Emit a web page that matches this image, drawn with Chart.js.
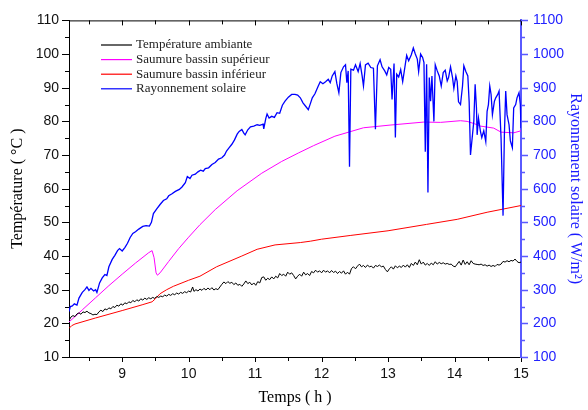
<!DOCTYPE html>
<html>
<head>
<meta charset="utf-8">
<script src="https://cdn.jsdelivr.net/npm/chart.js@4"></script>
<style>
  html, body { margin: 0; padding: 0; background: #fff; }
  #wrap { width: 588px; height: 410px; }
</style>
</head>
<body>
<div id="wrap"><canvas id="chart" width="588" height="410"></canvas></div>
<script>
// ** Data **
const seriesLabels = ["Température ambiante", "Saumure bassin supérieur", "Saumure bassin inférieur", "Rayonnement solaire"];
const seriesColors = ["#000000", "#ff00ff", "#ff0000", "#0000ff"];

const xTicks = [9, 10, 11, 12, 13, 14, 15];
const tempTicks = [10, 20, 30, 40, 50, 60, 70, 80, 90, 100, 110];
const radTicks = [100, 200, 300, 400, 500, 600, 700, 800, 900, 1000, 1100];

const hoursAmb = [8.20, 8.23, 8.26, 8.29, 8.32, 8.35, 8.38, 8.41, 8.44, 8.47, 8.50, 8.53, 8.56, 8.59, 8.62, 8.65, 8.68, 8.71, 8.74, 8.77,
  8.80, 8.83, 8.86, 8.89, 8.92, 8.95, 8.98, 9.01, 9.04, 9.07, 9.10, 9.13, 9.16, 9.19, 9.22, 9.25, 9.28, 9.31, 9.34, 9.37,
  9.40, 9.43, 9.46, 9.49, 9.52, 9.55, 9.58, 9.61, 9.64, 9.67, 9.70, 9.73, 9.76, 9.79, 9.82, 9.85, 9.88, 9.91, 9.94, 9.97,
  10.00, 10.03, 10.06, 10.08, 10.11, 10.14, 10.17, 10.20, 10.23, 10.26, 10.29, 10.32, 10.35, 10.38, 10.41, 10.44, 10.47, 10.50, 10.53, 10.56,
  10.59, 10.62, 10.65, 10.68, 10.71, 10.74, 10.77, 10.80, 10.83, 10.86, 10.89, 10.92, 10.95, 10.98, 11.01, 11.04, 11.07, 11.10, 11.13, 11.16,
  11.19, 11.22, 11.25, 11.28, 11.31, 11.34, 11.37, 11.40, 11.43, 11.46, 11.49, 11.52, 11.55, 11.58, 11.61, 11.64, 11.67, 11.70, 11.73, 11.76,
  11.79, 11.82, 11.85, 11.88, 11.91, 11.94, 11.97, 12.00, 12.03, 12.06, 12.09, 12.12, 12.15, 12.18, 12.21, 12.24, 12.27, 12.30, 12.33, 12.36,
  12.39, 12.42, 12.45, 12.48, 12.51, 12.54, 12.57, 12.60, 12.63, 12.66, 12.69, 12.72, 12.75, 12.78, 12.81, 12.84, 12.87, 12.90, 12.93, 12.96,
  12.99, 13.02, 13.05, 13.08, 13.11, 13.14, 13.17, 13.20, 13.23, 13.26, 13.29, 13.32, 13.35, 13.38, 13.41, 13.44, 13.47, 13.50, 13.53, 13.56,
  13.59, 13.62, 13.65, 13.68, 13.71, 13.74, 13.77, 13.80, 13.83, 13.86, 13.89, 13.92, 13.95, 13.98, 14.01, 14.04, 14.07, 14.10, 14.13, 14.16,
  14.19, 14.22, 14.25, 14.28, 14.31, 14.34, 14.37, 14.40, 14.43, 14.46, 14.49, 14.52, 14.55, 14.58, 14.61, 14.64, 14.67, 14.70, 14.73, 14.76,
  14.79, 14.82, 14.85, 14.88, 14.91, 14.94, 14.97, 15.00];
const tempAmb = [20.8, 21.9, 22.3, 22.0, 22.8, 23.1, 22.7, 23.4, 23.2, 23.6, 23.1, 22.9, 22.5, 22.7, 22.6, 23.4, 23.9, 23.5, 24.3, 24.0,
  24.6, 24.3, 25.0, 24.7, 25.4, 25.1, 25.8, 25.4, 26.1, 25.8, 26.4, 26.1, 26.8, 26.4, 27.0, 26.6, 27.3, 26.9, 27.5, 27.1,
  27.6, 27.3, 27.7, 27.4, 28.0, 27.7, 28.1, 27.9, 28.4, 28.1, 28.6, 28.3, 28.8, 28.5, 29.0, 28.7, 29.2, 28.9, 29.4, 29.1,
  29.6, 29.3, 30.8, 29.5, 30.0, 29.6, 30.2, 29.8, 30.4, 29.9, 30.5, 30.0, 30.6, 29.9, 30.3, 30.0, 30.8, 31.6, 32.3, 31.8,
  32.4, 31.9, 32.2, 31.5, 32.0, 31.3, 31.6, 31.0, 31.7, 32.6, 31.8, 32.2, 31.4, 32.0, 31.3, 32.4, 32.0, 33.6, 33.8, 32.8,
  33.4, 33.0, 33.8, 33.2, 34.0, 33.5, 34.8, 34.2, 34.6, 34.0, 35.2, 34.6, 35.0, 34.2, 33.2, 34.0, 34.6, 34.0, 35.2, 34.4,
  34.8, 34.2, 35.4, 35.0, 35.8, 35.2, 35.6, 35.0, 35.8, 35.2, 35.6, 35.0, 35.7, 35.1, 35.5, 34.8, 35.4, 34.9, 35.6, 34.6,
  35.2, 34.6, 36.3, 36.8, 36.2, 37.0, 37.6, 36.8, 37.2, 36.6, 37.3, 36.8, 37.0, 36.4, 37.2, 36.9, 37.3, 36.8, 37.0, 36.0,
  35.3, 36.2, 36.8, 36.1, 37.1, 36.5, 37.0, 36.6, 37.3, 36.7, 37.4, 36.6, 37.8, 37.2, 38.2, 37.4, 38.9, 37.6, 38.2, 37.3,
  37.8, 37.2, 37.9, 37.4, 38.3, 37.6, 38.1, 37.7, 38.0, 37.6, 37.8, 37.5, 37.6, 37.0, 36.8, 37.6, 38.4, 37.3, 38.8, 37.5,
  38.3, 37.4, 38.6, 37.8, 37.6, 37.5, 37.4, 37.6, 37.2, 37.4, 37.0, 37.3, 36.9, 37.2, 36.9, 37.5, 37.3, 37.6, 38.4, 38.2,
  38.6, 38.3, 38.7, 38.5, 39.1, 38.4, 38.0, 38.2];

const hoursSup = [8.20, 8.40, 8.60, 8.80, 9.00, 9.20, 9.40, 9.45, 9.48, 9.51, 9.53, 9.57, 9.70, 9.85, 10.00, 10.17, 10.40, 10.73,
  11.10, 11.40, 11.65, 11.88, 12.20, 12.63, 13.03, 13.54, 13.79, 14.09, 14.19, 14.30, 14.39, 14.59, 14.70, 14.89, 15.00];
const tempSup = [20.4, 24.0, 27.6, 31.2, 34.6, 37.9, 41.0, 41.6, 39.5, 35.0, 34.3, 35.0, 38.4, 42.2, 45.6, 49.3, 53.8, 59.4,
  64.6, 68.1, 70.6, 72.8, 75.6, 78.1, 78.9, 79.8, 79.7, 80.2, 80.0, 79.3, 78.6, 78.0, 76.8, 76.6, 77.2];

const hoursInf = [8.20, 8.24, 8.29, 8.60, 9.00, 9.30, 9.45, 9.50, 9.57, 9.67, 9.77, 10.00, 10.17, 10.42, 10.80, 11.03, 11.30,
  11.68, 11.83, 12.00, 12.43, 13.00, 13.58, 14.04, 14.49, 15.00];
const tempInf = [18.5, 19.3, 19.8, 21.6, 23.8, 25.5, 26.4, 27.3, 28.8, 30.0, 31.0, 32.8, 34.0, 36.8, 40.0, 42.0, 43.3,
  44.0, 44.4, 45.0, 46.1, 47.5, 49.4, 50.9, 53.0, 55.0];

const hoursRad = [8.20, 8.22, 8.25, 8.28, 8.32, 8.35, 8.40, 8.44, 8.47, 8.50, 8.53, 8.57, 8.60, 8.62, 8.66, 8.70, 8.74, 8.77, 8.80, 8.85,
  8.89, 8.93, 8.96, 9.00, 9.04, 9.08, 9.12, 9.16, 9.20, 9.25, 9.31, 9.36, 9.41, 9.44, 9.47, 9.52, 9.57, 9.62, 9.67, 9.70,
  9.75, 9.80, 9.86, 9.90, 9.95, 9.98, 10.02, 10.05, 10.10, 10.14, 10.18, 10.22, 10.25, 10.30, 10.35, 10.40, 10.45, 10.50, 10.54, 10.57,
  10.61, 10.65, 10.69, 10.73, 10.76, 10.80, 10.83, 10.85, 10.89, 10.93, 10.98, 11.03, 11.07, 11.12, 11.13, 11.16, 11.18, 11.21, 11.25, 11.29,
  11.33, 11.37, 11.41, 11.45, 11.50, 11.55, 11.60, 11.64, 11.68, 11.72, 11.76, 11.80, 11.83, 11.86, 11.90, 11.95, 11.98, 12.02, 12.06, 12.10,
  12.13, 12.16, 12.20, 12.23, 12.26, 12.29, 12.33, 12.36, 12.38, 12.40, 12.42, 12.44, 12.48, 12.51, 12.55, 12.58, 12.61, 12.63, 12.66, 12.70,
  12.74, 12.78, 12.81, 12.84, 12.88, 12.91, 12.95, 12.98, 13.01, 13.04, 13.06, 13.09, 13.11, 13.13, 13.16, 13.19, 13.22, 13.26, 13.28, 13.31,
  13.35, 13.38, 13.41, 13.44, 13.46, 13.49, 13.52, 13.54, 13.56, 13.58, 13.60, 13.62, 13.64, 13.66, 13.69, 13.71, 13.74, 13.77, 13.80, 13.83,
  13.86, 13.89, 13.91, 13.94, 13.97, 13.99, 14.02, 14.04, 14.06, 14.09, 14.12, 14.14, 14.17, 14.20, 14.22, 14.24, 14.27, 14.29, 14.31, 14.33,
  14.34, 14.36, 14.39, 14.41, 14.44, 14.47, 14.49, 14.51, 14.53, 14.55, 14.57, 14.60, 14.62, 14.65, 14.67, 14.70, 14.73, 14.75, 14.77, 14.79,
  14.82, 14.84, 14.87, 14.89, 14.92, 14.94, 14.97, 14.99, 15.00];
const radiation = [235, 250, 252, 258, 254, 275, 292, 300, 308, 298, 304, 296, 300, 292, 320, 335, 345, 342, 368, 390,
  402, 416, 422, 415, 425, 438, 455, 467, 472, 480, 488, 490, 489, 500, 526, 540, 553, 565, 570, 579,
  585, 592, 598, 605, 618, 636, 630, 640, 643, 650, 655, 652, 660, 662, 672, 678, 688, 692, 700, 712,
  722, 732, 745, 762, 770, 776, 765, 760, 775, 784, 786, 790, 788, 792, 778, 808, 822, 810, 815, 812,
  826, 824, 848, 860, 872, 880, 880, 878, 870, 855, 845, 835, 852, 870, 882, 905, 918, 912, 918, 925,
  915, 935, 948, 912, 885, 945, 962, 968, 915, 950, 665, 955, 952, 968, 948, 972, 935, 905, 968, 973,
  960, 958, 777, 965, 983, 962, 950, 938, 960, 955, 865, 972, 752, 940, 932, 954, 918, 970, 996, 980,
  998, 1018, 1000, 985, 948, 1000, 990, 975, 710, 970, 589, 930, 860, 935, 800, 968, 950, 935, 905, 945,
  952, 920, 930, 962, 930, 898, 935, 918, 858, 850, 905, 965, 948, 935, 858, 700, 760, 800, 910, 840,
  760, 810, 770, 752, 772, 740, 830, 850, 905, 880, 820, 860, 870, 880, 890, 750, 520, 760, 890, 820,
  790, 742, 722, 840, 850, 870, 885, 850, 780];

function toPoints(xs, ys) {
    return xs.map((x, i) => ({ x: x, y: ys[i] }));
}

// ** Ticks, frame and legend drawn on top **
const framePlugin = {
    id: "frame",
    afterDraw(chart) {
        const ctx = chart.ctx;
        const area = chart.chartArea;
        const xs = chart.scales.x, ys = chart.scales.y, y2 = chart.scales.y2;
        ctx.save();
        ctx.lineWidth = 1;
        ctx.strokeStyle = "#000";
        ctx.beginPath();
        ctx.moveTo(area.left, area.top + 0.5);
        ctx.lineTo(area.right, area.top + 0.5);
        // x ticks: bottom outward, top inward
        for (let v = 8.5; v <= 15.001; v += 0.5) {
            const px = Math.round(xs.getPixelForValue(v)) + 0.5;
            const len = Number.isInteger(v) ? 5 : 4;
            ctx.moveTo(px, area.bottom);
            ctx.lineTo(px, area.bottom + len);
            ctx.moveTo(px, area.top);
            ctx.lineTo(px, area.top + len);
        }
        // left ticks, outward
        for (let v = 10; v <= 110; v += 5) {
            const py = Math.round(ys.getPixelForValue(v)) + 0.5;
            const len = v % 10 === 0 ? 7 : 4;
            ctx.moveTo(area.left - len, py);
            ctx.lineTo(area.left, py);
        }
        ctx.stroke();
        // right ticks, outward, blue
        ctx.strokeStyle = "#5a5aff";
        ctx.lineWidth = 1.5;
        ctx.beginPath();
        for (let v = 100; v <= 1100; v += 50) {
            const py = Math.round(y2.getPixelForValue(v)) + 0.5;
            const len = v % 100 === 0 ? 7 : 4;
            ctx.moveTo(area.right, py);
            ctx.lineTo(area.right + len, py);
        }
        ctx.stroke();

        // legend
        ctx.font = '13px "Liberation Serif"';
        ctx.textBaseline = "middle";
        ctx.textAlign = "left";
        seriesLabels.forEach((label, i) => {
            const y = 45 + i * 14.6;
            ctx.strokeStyle = seriesColors[i];
            ctx.lineWidth = 1.2;
            ctx.beginPath();
            ctx.moveTo(101, y);
            ctx.lineTo(132, y);
            ctx.stroke();
            ctx.fillStyle = "#222";
            ctx.fillText(label, 136, y);
        });
        ctx.restore();
    }
};

const tickFont = { family: "Liberation Sans", size: 14 };
const titleFont = { family: "Liberation Serif", size: 16 };
const plainLabel = v => String(v);

new Chart(document.getElementById("chart").getContext("2d"), {
    type: "scatter",
    data: {
        datasets: [
            { label: seriesLabels[0], data: toPoints(hoursAmb, tempAmb), borderColor: seriesColors[0], yAxisID: "y", order: 1 },
            { label: seriesLabels[1], data: toPoints(hoursSup, tempSup), borderColor: seriesColors[1], yAxisID: "y", order: 2 },
            { label: seriesLabels[2], data: toPoints(hoursInf, tempInf), borderColor: seriesColors[2], yAxisID: "y", order: 3 },
            { label: seriesLabels[3], data: toPoints(hoursRad, radiation), borderColor: seriesColors[3], yAxisID: "y2", order: 0, borderWidth: 1.3 }
        ]
    },
    options: {
        responsive: false,
        animation: false,
        devicePixelRatio: 1,
        showLine: true,
        elements: { point: { radius: 0 }, line: { borderWidth: 1, tension: 0 } },
        layout: { padding: { top: 19, left: 0, right: 0, bottom: 0 } },
        plugins: { legend: { display: false }, tooltip: { enabled: false } },
        scales: {
            x: {
                type: "linear", position: "bottom", min: 8.2, max: 15,
                afterFit: s => { s.height = 53; },
                afterBuildTicks: s => { s.ticks = xTicks.map(v => ({ value: v })); },
                grid: { display: false, drawTicks: false },
                border: { display: true, color: "#000", width: 1 },
                ticks: { font: tickFont, color: "#111", padding: 9, maxRotation: 0, callback: plainLabel },
                title: { display: true, text: "Temps ( h )", font: titleFont, color: "#000", padding: { top: 0, bottom: 3 } }
            },
            y: {
                type: "linear", position: "left", min: 10, max: 110,
                afterFit: s => { s.width = 69; },
                afterBuildTicks: s => { s.ticks = tempTicks.map(v => ({ value: v })); },
                grid: { display: false, drawTicks: false },
                border: { display: true, color: "#000", width: 1 },
                ticks: { font: tickFont, color: "#111", padding: 10, callback: plainLabel },
                title: { display: true, text: "Température ( °C )", font: titleFont, color: "#000", padding: { top: 8, bottom: 0 } }
            },
            y2: {
                type: "linear", position: "right", min: 100, max: 1100,
                afterFit: s => { s.width = 67; },
                afterBuildTicks: s => { s.ticks = radTicks.map(v => ({ value: v })); },
                grid: { display: false, drawTicks: false },
                border: { display: true, color: "#5a5aff", width: 2 },
                ticks: { font: tickFont, color: "#2222ff", padding: 12, callback: plainLabel },
                title: { display: true, text: "Rayonnement solaire ( W/m²)", font: titleFont, color: "#1a1aff", padding: { top: 3, bottom: 0 } }
            }
        }
    },
    plugins: [framePlugin]
});
</script>
</body>
</html>
